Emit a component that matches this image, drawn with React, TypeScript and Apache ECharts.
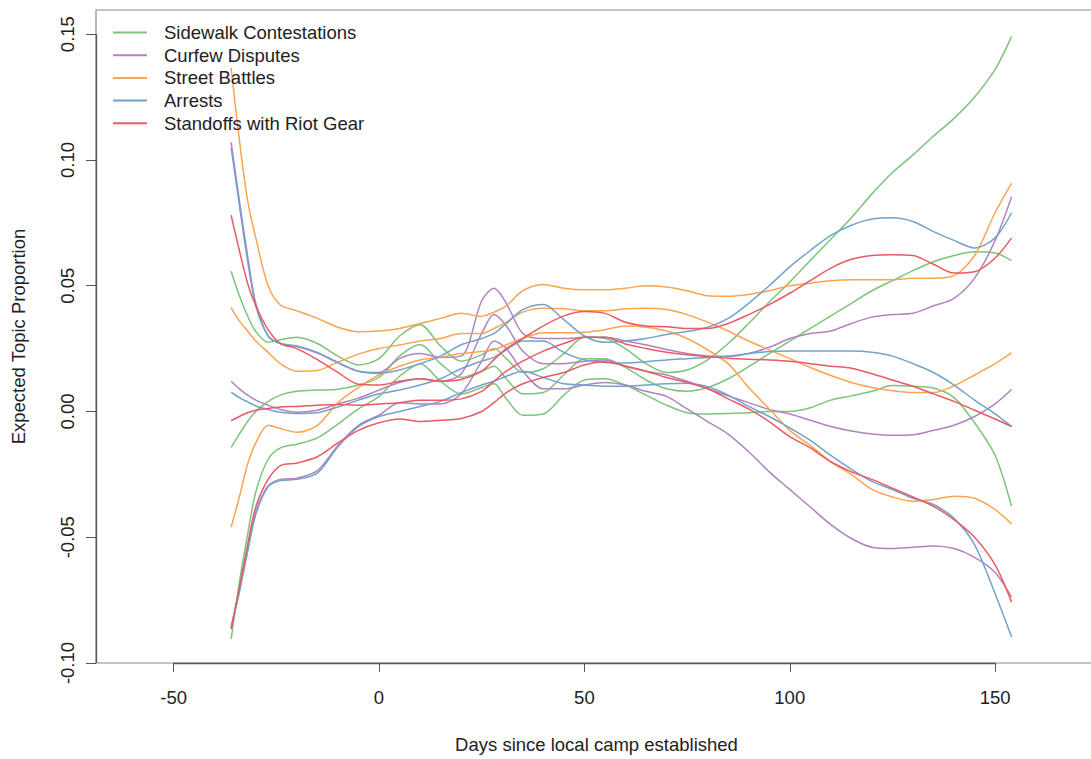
import React, { useEffect, useRef } from "react";
import * as echarts from "echarts";

// Days since local camp established (shared x positions for every curve)
const days = [-36, -34, -32, -30, -27, -24, -20, -15, -10, -5, 0, 5, 10, 15, 20, 25, 28, 31, 35, 40, 45, 50, 55, 60, 65, 70, 75, 80, 85, 90, 95, 100, 105, 110, 115, 120, 125, 130, 135, 140, 145, 150, 154];

const topicNames = ["Sidewalk Contestations", "Curfew Disputes", "Street Battles", "Arrests", "Standoffs with Riot Gear"];

// Sidewalk Contestations
const sidewalkUpper = [0.0557, 0.046, 0.038, 0.0318, 0.0275, 0.0285, 0.0295, 0.027, 0.022, 0.0185, 0.021, 0.030, 0.0345, 0.026, 0.020, 0.0225, 0.025, 0.021, 0.0155, 0.017, 0.023, 0.0295, 0.029, 0.025, 0.019, 0.0155, 0.0165, 0.0205, 0.027, 0.035, 0.0435, 0.0515, 0.060, 0.0685, 0.077, 0.0865, 0.095, 0.102, 0.1095, 0.1165, 0.125, 0.136, 0.149];
const sidewalkMean = [-0.0143, -0.009, -0.004, 0.0, 0.004, 0.0065, 0.008, 0.0085, 0.0088, 0.0105, 0.0135, 0.022, 0.0266, 0.019, 0.0135, 0.016, 0.018, 0.013, 0.007, 0.0075, 0.0145, 0.021, 0.021, 0.0175, 0.0125, 0.009, 0.008, 0.0095, 0.013, 0.0178, 0.023, 0.028, 0.033, 0.038, 0.043, 0.048, 0.052, 0.056, 0.0595, 0.062, 0.0635, 0.063, 0.060];
const sidewalkLower = [-0.0905, -0.068, -0.049, -0.032, -0.019, -0.0145, -0.013, -0.0105, -0.005, 0.001, 0.006, 0.014, 0.019, 0.012, 0.007, 0.0095, 0.011, 0.005, -0.0015, -0.001, 0.0065, 0.0125, 0.013, 0.0105, 0.0065, 0.0025, -0.0005, -0.001, -0.0008, -0.0005, 0.0, 0.0, 0.0015, 0.0045, 0.0062, 0.008, 0.0103, 0.010, 0.0093, 0.0055, -0.0045, -0.0175, -0.0377];

// Curfew Disputes
const curfewUpper = [0.107, 0.084, 0.062, 0.043, 0.030, 0.027, 0.0258, 0.0232, 0.0193, 0.016, 0.0155, 0.021, 0.023, 0.0215, 0.022, 0.044, 0.049, 0.043, 0.031, 0.029, 0.029, 0.0295, 0.0295, 0.028, 0.0265, 0.0246, 0.023, 0.022, 0.0218, 0.023, 0.0255, 0.029, 0.031, 0.032, 0.035, 0.0375, 0.0385, 0.039, 0.042, 0.045, 0.053, 0.068, 0.0854];
const curfewMean = [0.012, 0.009, 0.0065, 0.0045, 0.0025, 0.0008, -0.0003, 0.0005, 0.003, 0.0053, 0.0085, 0.0115, 0.013, 0.012, 0.015, 0.031, 0.0385, 0.034, 0.024, 0.019, 0.019, 0.020, 0.0205, 0.018, 0.016, 0.0145, 0.012, 0.009, 0.0062, 0.0035, 0.0008, -0.001, -0.0035, -0.006, -0.0078, -0.009, -0.0095, -0.0093, -0.0075, -0.0055, -0.002, 0.003, 0.0087];
const curfewLower = [-0.0855, -0.071, -0.055, -0.040, -0.0295, -0.027, -0.0265, -0.0235, -0.0135, -0.0055, -0.0015, 0.0035, 0.003, 0.003, 0.007, 0.020, 0.028, 0.025, 0.016, 0.009, 0.009, 0.0105, 0.0115, 0.0105, 0.008, 0.006, 0.001, -0.004, -0.009, -0.016, -0.024, -0.031, -0.038, -0.045, -0.0505, -0.054, -0.0545, -0.054, -0.0535, -0.0545, -0.058, -0.064, -0.0738];

// Street Battles
const battlesUpper = [0.1365, 0.108, 0.084, 0.069, 0.050, 0.0423, 0.040, 0.037, 0.0335, 0.0317, 0.032, 0.033, 0.035, 0.037, 0.039, 0.0378, 0.0395, 0.042, 0.048, 0.0505, 0.049, 0.0484, 0.0484, 0.049, 0.050, 0.0495, 0.048, 0.046, 0.0458, 0.0465, 0.048, 0.050, 0.051, 0.052, 0.0524, 0.0524, 0.0524, 0.053, 0.053, 0.054, 0.062, 0.079, 0.0908];
const battlesMean = [0.0413, 0.036, 0.032, 0.028, 0.0235, 0.019, 0.016, 0.0163, 0.0196, 0.0228, 0.025, 0.0264, 0.028, 0.029, 0.031, 0.031, 0.033, 0.0355, 0.0395, 0.041, 0.0408, 0.040, 0.040, 0.0408, 0.041, 0.0405, 0.0385, 0.0355, 0.032, 0.028, 0.0245, 0.021, 0.0175, 0.0143, 0.0115, 0.0095, 0.0082, 0.0075, 0.0075, 0.0102, 0.0145, 0.019, 0.0234];
const battlesLower = [-0.046, -0.034, -0.021, -0.0125, -0.0055, -0.0068, -0.0083, -0.0055, 0.0035, 0.0095, 0.0145, 0.018, 0.0205, 0.0215, 0.023, 0.0238, 0.0245, 0.0265, 0.029, 0.0313, 0.0313, 0.0315, 0.0325, 0.034, 0.0335, 0.032, 0.029, 0.0245, 0.019, 0.0095, 0.001, -0.0075, -0.0135, -0.020, -0.025, -0.031, -0.034, -0.0357, -0.035, -0.0337, -0.0345, -0.039, -0.0447];

// Arrests
const arrestsUpper = [0.105, 0.082, 0.060, 0.042, 0.030, 0.027, 0.026, 0.0235, 0.0195, 0.016, 0.0152, 0.0165, 0.019, 0.022, 0.0265, 0.029, 0.031, 0.035, 0.0405, 0.0425, 0.0365, 0.030, 0.0275, 0.028, 0.029, 0.0306, 0.0318, 0.0335, 0.037, 0.043, 0.050, 0.0575, 0.064, 0.070, 0.074, 0.0765, 0.077, 0.0755, 0.0715, 0.068, 0.065, 0.069, 0.079];
const arrestsMean = [0.0077, 0.0055, 0.0038, 0.0022, 0.0008, -0.0003, -0.0008, -0.0005, 0.0018, 0.0045, 0.007, 0.0085, 0.0105, 0.013, 0.017, 0.020, 0.0215, 0.0245, 0.028, 0.028, 0.0235, 0.0205, 0.0195, 0.0193, 0.0198, 0.0205, 0.021, 0.0215, 0.022, 0.023, 0.0238, 0.024, 0.024, 0.024, 0.024, 0.0235, 0.022, 0.019, 0.0155, 0.0105, 0.0045, -0.001, -0.006];
const arrestsLower = [-0.086, -0.072, -0.056, -0.041, -0.030, -0.0275, -0.027, -0.0245, -0.014, -0.006, -0.002, 0.0, 0.002, 0.004, 0.0075, 0.0105, 0.012, 0.014, 0.016, 0.0135, 0.011, 0.0105, 0.010, 0.010, 0.0105, 0.011, 0.0112, 0.0098, 0.0065, 0.002, -0.002, -0.0065, -0.0115, -0.0175, -0.023, -0.0278, -0.031, -0.0345, -0.037, -0.0425, -0.053, -0.0725, -0.0897];

// Standoffs with Riot Gear
const standoffsUpper = [0.078, 0.064, 0.051, 0.042, 0.0325, 0.027, 0.025, 0.0206, 0.0155, 0.0108, 0.0105, 0.012, 0.013, 0.012, 0.0127, 0.016, 0.0206, 0.025, 0.029, 0.034, 0.038, 0.0397, 0.039, 0.0355, 0.034, 0.0337, 0.033, 0.033, 0.035, 0.0385, 0.0425, 0.047, 0.052, 0.057, 0.0605, 0.062, 0.0623, 0.062, 0.0585, 0.055, 0.0555, 0.061, 0.069];
const standoffsMean = [-0.0037, -0.002, -0.0005, 0.0005, 0.0012, 0.0018, 0.002, 0.0025, 0.0028, 0.0025, 0.003, 0.0035, 0.0045, 0.0045, 0.005, 0.008, 0.012, 0.016, 0.020, 0.024, 0.027, 0.0295, 0.0295, 0.0268, 0.025, 0.0235, 0.0225, 0.0218, 0.0212, 0.0208, 0.0205, 0.020, 0.019, 0.018, 0.0172, 0.015, 0.0125, 0.010, 0.007, 0.004, 0.0005, -0.003, -0.006];
const standoffsLower = [-0.0865, -0.070, -0.053, -0.038, -0.027, -0.0215, -0.0205, -0.018, -0.0125, -0.0075, -0.0045, -0.003, -0.004, -0.0035, -0.0028, 0.0, 0.0035, 0.0075, 0.011, 0.0135, 0.0155, 0.0185, 0.0198, 0.018, 0.016, 0.0135, 0.0115, 0.009, 0.005, 0.001, -0.004, -0.010, -0.0145, -0.020, -0.024, -0.027, -0.0305, -0.034, -0.0377, -0.043, -0.050, -0.061, -0.0758];

const xTicks = [-50, 0, 50, 100, 150];
const yTicks = [-0.1, -0.05, 0, 0.05, 0.1, 0.15];

const topicColors = ["#7cc47a", "#b282c0", "#fca44f", "#71a2cc", "#ea5a62"];
const topicLines = [
  [sidewalkUpper, sidewalkMean, sidewalkLower],
  [curfewUpper, curfewMean, curfewLower],
  [battlesUpper, battlesMean, battlesLower],
  [arrestsUpper, arrestsMean, arrestsLower],
  [standoffsUpper, standoffsMean, standoffsLower],
];

const FONT = "'Liberation Sans', Arial, Helvetica, sans-serif";

export default function App() {
  const ref = useRef<HTMLDivElement>(null);

  useEffect(() => {
    if (!ref.current) return;
    const chart = echarts.init(ref.current, undefined, { renderer: "svg" });

    const lineSeries: any[] = [];
    topicLines.forEach((lines, t) => {
      lines.forEach((arr) => {
        lineSeries.push({
          type: "line",
          name: topicNames[t],
          data: days.map((d, i) => [d, arr[i]]),
          symbol: "none",
          smooth: 0.3,
          silent: true,
          lineStyle: { color: topicColors[t], width: 1.5 },
          itemStyle: { color: topicColors[t] },
        });
      });
    });

    const axisSeries = {
      type: "line",
      name: "_axes",
      data: [],
      symbol: "none",
      silent: true,
      clip: false,
      markLine: {
        silent: true,
        symbol: ["none", "none"],
        label: { show: false },
        lineStyle: { color: "#555", width: 1.3, type: "solid" },
        data: [
          [{ coord: [xTicks[0], yTicks[0]] }, { coord: [xTicks[xTicks.length - 1], yTicks[0]] }],
          [{ coord: [-68.9, yTicks[0]] }, { coord: [-68.9, yTicks[yTicks.length - 1]] }],
        ],
      },
    };

    chart.setOption({
      animation: false,
      backgroundColor: "#ffffff",
      grid: {
        left: 96,
        top: 10,
        width: 1001,
        height: 656,
        show: true,
        borderColor: "#8a8a8a",
        borderWidth: 1.2,
        backgroundColor: "transparent",
      },
      legend: {
        data: topicNames,
        orient: "vertical",
        left: 113,
        top: 22,
        padding: 0,
        icon: "rect",
        itemWidth: 34,
        itemHeight: 2,
        itemGap: 1.7,
        selectedMode: false,
        textStyle: { fontSize: 18.5, color: "#222", fontFamily: FONT, lineHeight: 21, padding: [0, 0, 0, 12] },
      },
      xAxis: {
        type: "value",
        min: -68.9,
        max: 174.8,
        position: "bottom",
        axisLine: { show: false, onZero: false },
        splitLine: { show: false },
        axisTick: { show: true, length: 9, customValues: xTicks, lineStyle: { color: "#555" } },
        axisLabel: { customValues: xTicks, margin: 25, fontSize: 18.5, color: "#222", fontFamily: FONT },
        name: "Days since local camp established",
        nameLocation: "middle",
        nameGap: 72,
        nameTextStyle: { fontSize: 18.5, color: "#222", fontFamily: FONT },
      },
      yAxis: {
        type: "value",
        min: -0.1,
        max: 0.1596,
        position: "left",
        axisLine: { show: false, onZero: false },
        splitLine: { show: false },
        axisTick: { show: true, length: 10, customValues: yTicks, lineStyle: { color: "#555" } },
        axisLabel: {
          customValues: yTicks,
          rotate: 90,
          margin: 19,
          fontSize: 18.5,
          color: "#222",
          fontFamily: FONT,
          formatter: (v: number) => v.toFixed(2),
        },
        name: "Expected Topic Proportion",
        nameLocation: "middle",
        nameGap: 68,
        nameTextStyle: { fontSize: 18.5, color: "#222", fontFamily: FONT },
      },
      series: [...lineSeries, axisSeries],
    });

    return () => chart.dispose();
  }, []);

  return (
    <div style={{ position: "absolute", left: 0, top: 0, width: 1091, height: 759, overflow: "hidden", background: "#fff" }}>
      <div ref={ref} style={{ width: 1110, height: 759 }} />
    </div>
  );
}
